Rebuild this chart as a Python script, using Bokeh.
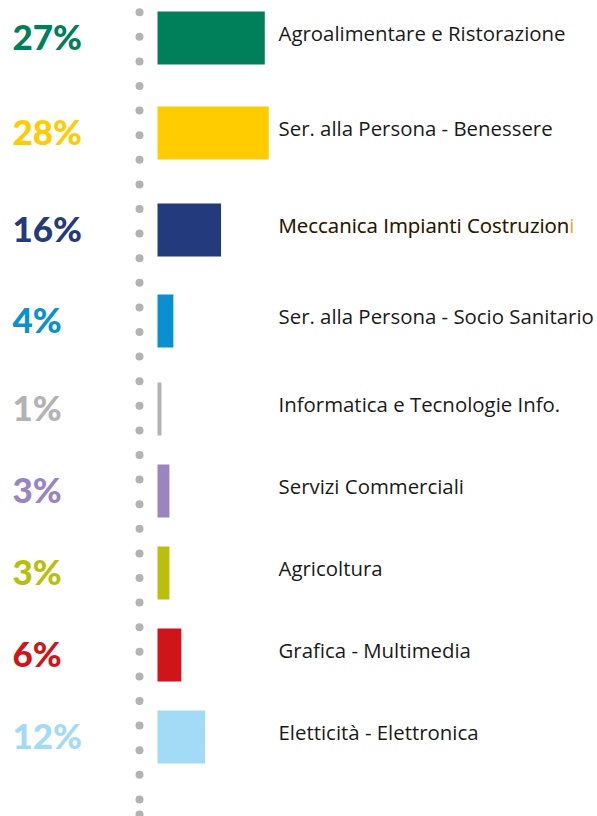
from bokeh.plotting import figure
from bokeh.models import Range1d, ColumnDataSource
from bokeh.core.properties import value
from bokeh.embed import file_html
from bokeh.resources import INLINE

# ---- data ----
categories = [
    "Agroalimentare e Ristorazione",
    "Ser. alla Persona - Benessere",
    "Meccanica Impianti Costruzioni",
    "Ser. alla Persona - Socio Sanitario",
    "Informatica e Tecnologie Info.",
    "Servizi Commerciali",
    "Agricoltura",
    "Grafica - Multimedia",
    "Eletticità - Elettronica",
]
percentages = [27, 28, 16, 4, 1, 3, 3, 6, 12]
pct_labels = ["27%", "28%", "16%", "4%", "1%", "3%", "3%", "6%", "12%"]
colors = ["#00805a", "#ffcc00", "#233a7d", "#0a8fd0", "#b3b3b3",
          "#9a85bf", "#b9c00b", "#d0151a", "#a3daf6"]

# ---- layout (pixel rows, top-down) ----
row_y = [37.5, 132.5, 229.5, 320.5, 408.5, 490.5, 572.5, 654.5, 736.5]
bar_h = 53
px_per_pct = 3.973
W, H = 597, 816
bar_x0_px = 157  # bar start inside figure

x0 = -bar_x0_px / px_per_pct
x1 = (W - bar_x0_px) / px_per_pct

p = figure(width=W, height=H, output_backend="svg", toolbar_location=None,
           x_range=Range1d(x0, x1), y_range=Range1d(H, 0),
           min_border=0, outline_line_color=None)
p.axis.visible = False
p.grid.visible = False
p.background_fill_color = "white"
p.border_fill_color = "white"

# dotted vertical separator
dot_y = [11.7 + 24.6 * k for k in range(33)] + [814]
dot_x = [-18 / px_per_pct] * len(dot_y)
p.scatter(dot_x, dot_y, size=8, color="#b3b3b3", line_color=None)

src = ColumnDataSource(dict(cat=categories, val=percentages, lab=pct_labels,
                            col=colors, y=row_y, zero=[0] * len(row_y)))

p.hbar(y="y", left=0, right="val", height=bar_h, color="col",
       line_color=None, source=src)

p.text(x="zero", y="y", text="lab", text_color="col", source=src,
       x_offset=-145, y_offset=-2, text_align="left", text_baseline="middle",
       text_font=value("Lato Black"), text_font_style="bold", text_font_size="35px")

# category labels (orange last letter on the third label, as in the original)
lab_font = value("Open Sans")
lab_size = "20.4px"
p.text(x=[0], y=[row_y[2]], text=[categories[2]], text_color="#f5a623",
       x_offset=121, y_offset=-5, text_align="left", text_baseline="middle",
       text_font=lab_font, text_font_size=lab_size)
label_txt = list(categories)
label_txt[2] = categories[2][:-1]
src2 = ColumnDataSource(dict(t=label_txt, y=row_y, zero=[0] * len(row_y)))
p.text(x="zero", y="y", text="t", text_color="#1a1a1a", source=src2,
       x_offset=121, y_offset=-5, text_align="left", text_baseline="middle",
       text_font=lab_font, text_font_size=lab_size)

open("out.html", "w").write(file_html(p, INLINE))
